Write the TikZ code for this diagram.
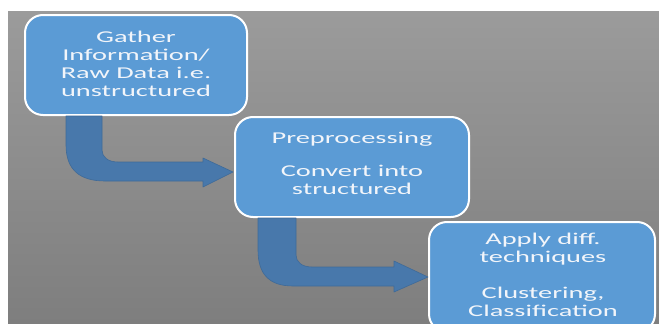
\documentclass[tikz,border=0pt]{standalone}
\usepackage{fontspec}
\newfontfamily\boxfont[FakeStretch=1.72]{Carlito}
\definecolor{boxblue}{HTML}{5B9BD5}
\definecolor{arrowblue}{HTML}{4878AB}
\definecolor{arrowedge}{HTML}{3F6A98}
\definecolor{bgtop}{HTML}{9B9B9B}
\definecolor{bgbot}{HTML}{7E7E7E}
\definecolor{txt}{HTML}{F2F5FA}
\tikzset{
  x=1pt, y=-1pt,
  stepbox/.style={draw=white, line width=2pt, fill=boxblue, rounded corners=18pt,
    inner sep=0pt},
  boxtext/.style={text=txt, align=center, inner sep=0pt,
    font=\boxfont\fontsize{16.5}{18}\selectfont},
  bentarrow/.style={fill=arrowblue, draw=arrowedge, line width=0.6pt, line join=round}
}
\begin{document}
\begin{tikzpicture}
\useasboundingbox (0,0) rectangle (659,324);
\clip (0,0) rectangle (659,324);
\fill[white] (0,0) rectangle (659,324);
\shade[top color=bgtop, bottom color=bgbot] (8,11) rectangle (659,324);
% boxes
\node[stepbox, minimum width=222pt, minimum height=100pt] (b1) at (136,65) {};
\node[stepbox, minimum width=234pt, minimum height=100pt] (b2) at (352,167) {};
\node[stepbox, minimum width=226pt, minimum height=110pt] (b3) at (542,277) {};
% texts
\node[boxtext] (t1) at (136,64) {Gather\\Information/\\Raw Data i.e.\\unstructured};
\node[boxtext] (t2) at (352,163) {Preprocessing\\[15pt]Convert into\\structured};
\node[boxtext] (t3) at (543,275) {Apply diff.\\techniques\\[18pt]Clustering,\\Classification};
% bent arrows
\path[bentarrow] (66,116) -- (66,145) .. controls (66,170) and (80,181) .. (105,181)
  -- (203,181) -- (203,187) -- (233,172) -- (203,158) -- (203,162) -- (118,162)
  .. controls (108,162) and (102,157) .. (102,150) -- (102,116) -- cycle;
\path[bentarrow] (258,218) -- (258,250) .. controls (258,275) and (270,286) .. (293,286)
  -- (394,286) -- (394,292) -- (428,277) -- (394,261) -- (394,267) -- (312,267)
  .. controls (302,267) and (296,262) .. (296,255) -- (296,218) -- cycle;
\end{tikzpicture}
\end{document}
